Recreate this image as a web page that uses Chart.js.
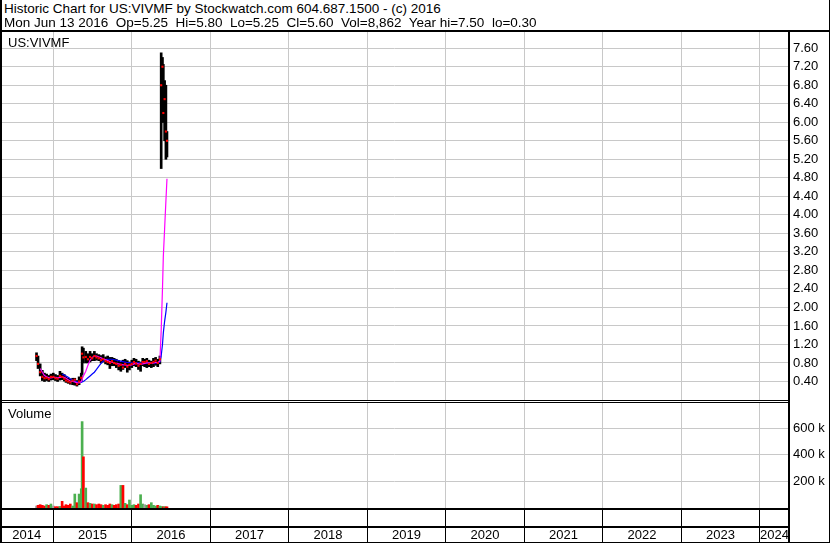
<!DOCTYPE html>
<html>
<head>
<meta charset="utf-8">
<script src="https://cdn.jsdelivr.net/npm/chart.js@4.4.1/dist/chart.umd.min.js"></script>
<style>
  body { margin: 0; background: #fff; }
  #page { position: relative; width: 830px; height: 543px; overflow: hidden; font-family: "Liberation Sans", Arial, sans-serif; color: #000; }
  .box { position: absolute; }
  .line { position: absolute; background: #000; }
  .txt { position: absolute; white-space: pre; font-size: 13.5px; line-height: 14px; }
</style>
</head>
<body>
<div id="page">
  <div class="box" style="left:0;top:32px;width:830px;height:368px"><canvas id="priceChart"></canvas></div>
  <div class="box" style="left:0;top:403px;width:830px;height:105px"><canvas id="volChart"></canvas></div>
  <div class="box" style="left:0;top:510px;width:830px;height:32px"><canvas id="yearChart"></canvas></div>

  <div class="txt" style="left:4px;top:2px">Historic Chart for US:VIVMF by Stockwatch.com 604.687.1500 - (c) 2016</div>
  <div class="txt" style="left:4px;top:16px">Mon Jun 13 2016  Op=5.25  Hi=5.80  Lo=5.25  Cl=5.60  Vol=8,862  Year hi=7.50  lo=0.30</div>
  <div class="txt" style="left:8px;top:36px;font-size:13px">US:VIVMF</div>
  <div class="txt" style="left:8px;top:407px;font-size:13px">Volume</div>

  <div class="line" style="left:0;top:30px;width:830px;height:2px"></div>
  <div class="line" style="left:0;top:0;width:2px;height:543px"></div>
  <div class="line" style="left:829px;top:0;width:1px;height:543px"></div>
  <div class="line" style="left:788px;top:30px;width:2px;height:513px"></div>
  <div class="line" style="left:0;top:400px;width:789px;height:1px"></div>
  <div class="line" style="left:0;top:402px;width:789px;height:1px"></div>
  <div class="line" style="left:0;top:508px;width:789px;height:2px"></div>
  <div class="line" style="left:0;top:526px;width:789px;height:2px"></div>
  <div class="line" style="left:0;top:542px;width:830px;height:1px"></div>
</div>

<script>
// samples
const dates = [
  '2014-10-15','2014-10-22','2014-11-01','2014-11-11','2014-11-21','2014-12-01','2014-12-11','2014-12-21','2015-01-01','2015-01-11',
  '2015-01-21','2015-02-01','2015-02-11','2015-02-21','2015-03-01','2015-03-11','2015-03-21','2015-04-01','2015-04-11','2015-04-21',
  '2015-05-01','2015-05-11','2015-05-15','2015-05-21','2015-06-01','2015-06-11','2015-06-21','2015-07-01','2015-07-11','2015-07-21',
  '2015-08-01','2015-08-11','2015-08-21','2015-09-01','2015-09-11','2015-09-21','2015-10-01','2015-10-11','2015-10-21','2015-11-01',
  '2015-11-11','2015-11-21','2015-12-01','2015-12-11','2015-12-21','2016-01-01','2016-01-11','2016-01-21','2016-02-01','2016-02-11',
  '2016-02-21','2016-03-01','2016-03-11','2016-03-21','2016-04-01','2016-04-11','2016-04-21','2016-05-01','2016-05-11','2016-05-17',
  '2016-05-23','2016-05-27','2016-06-02','2016-06-08','2016-06-13'
];
const lows = [
  .85,.68,.52,.42,.40,.42,.40,.43,.44,.42,
  .40,.43,.44,.41,.38,.36,.34,.33,.32,.30,
  .33,.40,.55,.80,.80,.80,.82,.85,.85,.86,
  .85,.80,.82,.78,.76,.68,.74,.74,.70,.65,
  .62,.66,.70,.60,.65,.70,.74,.72,.66,.62,
  .74,.72,.70,.72,.70,.72,.75,.72,.78,5.00,
  6.00,6.00,5.60,5.20,5.25
];
const highs = [
  1.02,.95,.78,.64,.58,.56,.53,.56,.58,.55,
  .53,.62,.58,.55,.50,.47,.45,.47,.47,.42,
  .50,.58,1.15,1.12,1.05,1.00,1.05,1.00,1.05,1.00,
  .98,.96,.98,.93,.95,.92,.92,.90,.88,.85,
  .82,.86,.88,.85,.82,.86,.90,.88,.84,.82,
  .90,.88,.90,.86,.84,.90,.92,.88,.95,7.50,
  7.40,7.25,6.90,6.80,5.80
];
const closes = [
  .95,.78,.60,.50,.47,.48,.45,.50,.50,.47,
  .46,.52,.50,.46,.42,.40,.38,.42,.44,.34,
  .40,.48,1.00,.92,.93,.88,.93,.90,.95,.92,
  .90,.86,.88,.84,.82,.80,.84,.80,.78,.74,
  .76,.70,.78,.72,.76,.78,.82,.79,.74,.78,
  .82,.82,.84,.78,.80,.82,.85,.80,.88,6.80,
  7.20,6.20,6.50,5.80,5.60
];
const maShort = [
  null,null,.68,.60,.53,.50,.48,.48,.49,.49,
  .48,.49,.50,.49,.47,.44,.41,.40,.39,.37,
  .37,.40,.45,.52,.62,.75,.86,.92,.95,.95,
  .93,.91,.89,.87,.85,.83,.82,.80,.79,.78,
  .77,.76,.76,.75,.75,.76,.78,.79,.78,.77,
  .78,.79,.80,.80,.79,.80,.81,.81,.84,1.50,
  2.40,3.10,3.70,4.30,4.78
];
const maLong = [
  null,null,null,null,null,null,null,null,null,null,
  null,null,.56,.54,.52,.49,.46,.43,.41,.39,
  .38,.38,.39,.40,.44,.48,.52,.56,.60,.66,
  .73,.79,.84,.87,.88,.88,.88,.87,.86,.85,
  .84,.83,.82,.81,.81,.80,.80,.80,.80,.80,
  .80,.80,.80,.80,.80,.80,.80,.80,.82,.95,
  1.20,1.45,1.70,1.90,2.10
];
const volumes = [
  15000,20000,25000,20000,15000,25000,20000,30000,15000,10000,
  10000,12000,50000,15000,25000,20000,30000,15000,105000,40000,
  105000,145000,650000,385000,150000,40000,35000,30000,30000,25000,
  30000,25000,20000,25000,20000,30000,25000,20000,25000,30000,
  170000,170000,35000,25000,60000,20000,25000,20000,30000,100000,
  30000,25000,20000,25000,40000,20000,15000,20000,15000,10000,
  10000,8000,10000,8000,8862
];
const yearTicks = [2015, 2016, 2017, 2018, 2019, 2020, 2021, 2022, 2023, 2024];
const yearLabels = [2014, 2015, 2016, 2017, 2018, 2019, 2020, 2021, 2022, 2023, 2024];
const priceTicks = [0.4, 0.8, 1.2, 1.6, 2.0, 2.4, 2.8, 3.2, 3.6, 4.0, 4.4, 4.8, 5.2, 5.6, 6.0, 6.4, 6.8, 7.2, 7.6];
const volTicks = [200000, 400000, 600000];

const xMin = 2014.321, xMax = 2024.372;
const gridGray = '#c8c8c8';
const tickFont = { family: '"Liberation Sans", Arial, sans-serif', size: 13 };

function yearFrac(s) {
  const d = new Date(s + 'T00:00:00Z');
  const y = d.getUTCFullYear();
  const a = Date.UTC(y, 0, 1), b = Date.UTC(y + 1, 0, 1);
  return y + (d - a) / (b - a);
}
const xs = dates.map(yearFrac);
const pts = arr => xs.map((x, i) => ({ x: x, y: arr[i] }));

const volColors = closes.map((c, i) => {
  if (i === 0 || c === closes[i - 1]) return '#a0a0a0';
  return c > closes[i - 1] ? '#4cb050' : '#ff0000';
});

function noPad(s) {
  s.paddingTop = 0; s.paddingBottom = 0; s.paddingLeft = 0; s.paddingRight = 0;
}
function xAxis() {
  return {
    type: 'linear', min: xMin, max: xMax, offset: false,
    grid: { color: gridGray, drawTicks: false, offset: false },
    border: { display: false },
    ticks: { display: false },
    afterBuildTicks: s => { s.ticks = yearTicks.map(v => ({ value: v })); },
    afterFit: s => { s.height = 0; noPad(s); }
  };
}
function yAxis(min, max, ticks, fmt) {
  return {
    position: 'right', min: min, max: max,
    grid: { color: gridGray, drawTicks: false },
    border: { display: false },
    ticks: { font: tickFont, color: '#000', padding: 4, callback: fmt },
    afterBuildTicks: s => { s.ticks = ticks.map(v => ({ value: v })); },
    afterFit: s => { s.width = 41; noPad(s); }
  };
}
const common = {
  responsive: true, maintainAspectRatio: false, animation: false,
  layout: { padding: 0, autoPadding: false },
  plugins: { legend: { display: false }, tooltip: { enabled: false } }
};

new Chart(document.getElementById('priceChart'), {
  type: 'bar',
  data: {
    datasets: [
      { type: 'line', data: pts(closes), showLine: false, pointStyle: 'rect', pointRadius: 1.5,
        pointBackgroundColor: '#ff0000', pointBorderWidth: 0, order: 1 },
      { type: 'line', data: pts(maShort), borderColor: '#ff00ff', borderWidth: 1.2, pointRadius: 0, order: 2 },
      { type: 'line', data: pts(maLong), borderColor: '#0000ff', borderWidth: 1.2, pointRadius: 0, order: 3 },
      { type: 'bar', data: xs.map((x, i) => ({ x: x, y: [lows[i], highs[i]] })), backgroundColor: '#000',
        barThickness: 2, order: 4 }
    ]
  },
  options: Object.assign({}, common, {
    scales: { x: xAxis(), y: yAxis(0, 7.95, priceTicks, v => v.toFixed(2)) }
  })
});

new Chart(document.getElementById('volChart'), {
  type: 'bar',
  data: {
    datasets: [
      { data: pts(volumes), backgroundColor: volColors, barThickness: 2 }
    ]
  },
  options: Object.assign({}, common, {
    scales: { x: xAxis(), y: yAxis(0, 790000, volTicks, v => (v / 1000) + ' k') }
  })
});

// year strip: boundaries as black lines, labels centred on the visible part of each year
const yearMids = yearLabels.map(y => (Math.max(y, xMin) + Math.min(y + 1, xMax)) / 2);
new Chart(document.getElementById('yearChart'), {
  type: 'line',
  data: { datasets: [] },
  options: Object.assign({}, common, {
    scales: {
      x: {
        type: 'linear', min: xMin, max: xMax, offset: false,
        grid: {
          color: c => (c.tick && Number.isInteger(c.tick.value)) ? '#000' : 'rgba(0,0,0,0)',
          drawTicks: true, tickLength: 16, offset: false
        },
        border: { display: false },
        ticks: {
          font: tickFont, color: '#000', padding: -14, autoSkip: false, maxRotation: 0,
          callback: (v, i, t) => t[i].lab || ''
        },
        afterBuildTicks: s => {
          const t = yearTicks.map(v => ({ value: v }))
            .concat(yearMids.map((v, j) => ({ value: v, lab: String(yearLabels[j]) })));
          t.sort((a, b) => a.value - b.value);
          s.ticks = t;
        },
        afterFit: s => { s.height = 16; noPad(s); }
      },
      y: {
        position: 'right', min: 0, max: 1,
        grid: { display: false }, border: { display: false }, ticks: { display: false },
        afterFit: s => { s.width = 41; noPad(s); }
      }
    }
  })
});
</script>
</body>
</html>
